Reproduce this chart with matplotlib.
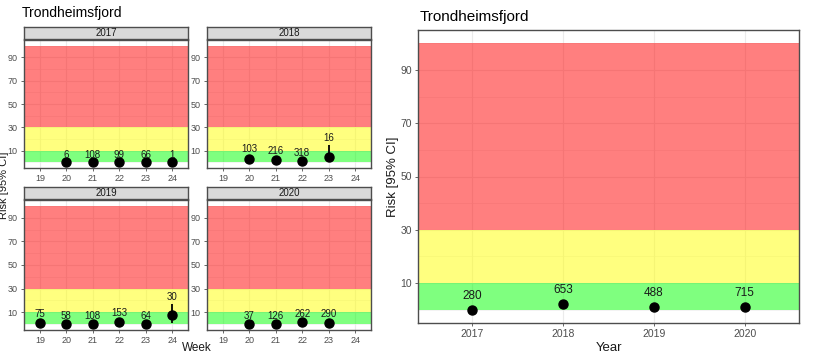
import matplotlib
matplotlib.use("Agg")
import matplotlib.pyplot as plt

plt.rcParams['font.family'] = ['Liberation Sans', 'DejaVu Sans']

# ---------------- data ----------------
week_ticks = [19, 20, 21, 22, 23, 24]
years = ["2017", "2018", "2019", "2020"]

weeks_2017 = [20, 21, 22, 23, 24]
risk_2017 = [0.0, 0.0, 0.0, 0.0, 0.0]
lo_2017 = [0.0, 0.0, 0.0, 0.0, 0.0]
hi_2017 = [0.5, 0.5, 0.5, 0.5, 0.5]
n_2017 = [6, 108, 99, 66, 1]

weeks_2018 = [20, 21, 22, 23]
risk_2018 = [3.0, 2.2, 1.2, 4.8]
lo_2018 = [1.5, 1.0, 0.5, 0.8]
hi_2018 = [5.5, 3.5, 2.2, 14.5]
n_2018 = [103, 216, 318, 16]

weeks_2019 = [19, 20, 21, 22, 23, 24]
risk_2019 = [1.3, 0.2, 0.2, 2.0, 0.3, 7.5]
lo_2019 = [0.5, 0.0, 0.0, 1.0, 0.0, 1.0]
hi_2019 = [2.5, 1.0, 1.0, 3.5, 1.0, 17.0]
n_2019 = [75, 58, 108, 153, 64, 30]

weeks_2020 = [20, 21, 22, 23]
risk_2020 = [0.2, 0.2, 1.5, 1.2]
lo_2020 = [0.0, 0.0, 0.5, 0.5]
hi_2020 = [1.0, 1.0, 2.5, 2.2]
n_2020 = [37, 126, 262, 290]

risk_year = [0.0, 2.0, 1.0, 1.0]
lo_year = [0.0, 1.5, 0.6, 0.6]
hi_year = [0.3, 2.5, 1.4, 1.4]
n_year = [280, 653, 488, 715]

y_ticks = [10, 30, 50, 70, 90]
bands = [(0, 10, '#00FF00'), (10, 30, '#FFFF00'), (30, 100, '#FF0000')]

W, H = 817, 360
fig = plt.figure(figsize=(W / 100, H / 100), dpi=100)

def ax_at(x0, y0, x1, y1):
    return fig.add_axes([x0 / W, 1 - y1 / H, (x1 - x0) / W, (y1 - y0) / H])

BORDER = '#4d4d4d'
GRID = '#ebebeb'

def style(ax, xticks, xlabels, xlim, fs_tick):
    ax.set_xlim(*xlim)
    ax.set_ylim(-5, 105)
    ax.set_xticks(xticks)
    ax.set_xticklabels(xlabels)
    ax.set_yticks(y_ticks)
    ax.set_yticks([0, 20, 40, 60, 80, 100], minor=True)
    ax.tick_params(axis='both', which='major', labelsize=fs_tick, colors='#4d4d4d',
                   length=2.5, width=0.6, pad=2, labelcolor='#4d4d4d')
    ax.tick_params(axis='both', which='minor', length=0)
    for xv in xticks:
        ax.axvline(xv, color=GRID, lw=0.8, zorder=0)
    for yv in y_ticks:
        ax.axhline(yv, color=GRID, lw=0.8, zorder=0)
    for yv in [0, 20, 40, 60, 80, 100]:
        ax.axhline(yv, color=GRID, lw=0.4, zorder=0)
    for lo, hi, c in bands:
        ax.axhspan(lo, hi, color=c, alpha=0.5, lw=0, zorder=1)
    for s in ax.spines.values():
        s.set_color(BORDER)
        s.set_linewidth(1.0)
        s.set_zorder(5)

def facet(x0, y0, x1, y1, year, wk, r, lo, hi, n):
    ax = ax_at(x0, y0, x1, y1)
    style(ax, week_ticks, [str(w) for w in week_ticks], (18.4, 24.6), 6.5)
    ax.vlines(wk, lo, hi, color='black', lw=1.3, zorder=3)
    ax.plot(wk, r, 'o', color='black', ms=6.5, zorder=4)
    for xv, yv, lab in zip(wk, hi, n):
        ax.annotate(str(lab), (xv, yv), xytext=(0, 1.5), textcoords='offset points',
                    ha='center', va='bottom', fontsize=7, color='#1a1a1a', zorder=6)
    # strip
    sx = ax_at(x0, y0 - 13, x1, y0 - 1)
    sx.set_xticks([]); sx.set_yticks([])
    sx.set_facecolor('#d9d9d9')
    for s in sx.spines.values():
        s.set_color(BORDER); s.set_linewidth(1.0)
    sx.text(0.5, 0.5, year, ha='center', va='center', fontsize=7, color='#1a1a1a',
            transform=sx.transAxes)
    return ax

facet(24, 40, 188, 168, "2017", weeks_2017, risk_2017, lo_2017, hi_2017, n_2017)
facet(207, 40, 371, 168, "2018", weeks_2018, risk_2018, lo_2018, hi_2018, n_2018)
facet(24, 200, 188, 330, "2019", weeks_2019, risk_2019, lo_2019, hi_2019, n_2019)
facet(207, 200, 371, 330, "2020", weeks_2020, risk_2020, lo_2020, hi_2020, n_2020)

fig.text(22 / W, 1 - 13 / H, "Trondheimsfjord", ha='left', va='center', fontsize=10, color='black')
fig.text(4 / W, 1 - 185 / H, "Risk [95% CI]", ha='center', va='center', rotation=90,
         fontsize=8, color='#1a1a1a')
fig.text(197 / W, 1 - 348 / H, "Week", ha='center', va='center', fontsize=8.5, color='#1a1a1a')

# right panel
axr = ax_at(418, 30, 799, 323)
xpos = list(range(1, len(years) + 1))
style(axr, xpos, years, (0.4, 4.6), 7.5)
axr.vlines(xpos, lo_year, hi_year, color='black', lw=1.3, zorder=3)
axr.plot(xpos, risk_year, 'o', color='black', ms=6.5, zorder=4)
for xv, yv, lab in zip(xpos, hi_year, n_year):
    axr.annotate(str(lab), (xv, yv), xytext=(0, 5), textcoords='offset points',
                 ha='center', va='bottom', fontsize=8.5, color='#1a1a1a', zorder=6)
axr.set_xlabel("Year", fontsize=9.5, color='#1a1a1a', labelpad=2)
fig.text(393 / W, 1 - 177 / H, "Risk [95% CI]", ha='center', va='center', rotation=90,
         fontsize=9.5, color='#1a1a1a')
fig.text(420 / W, 1 - 17 / H, "Trondheimsfjord", ha='left', va='center', fontsize=11, color='black')

fig.savefig("out.png", dpi=100)
